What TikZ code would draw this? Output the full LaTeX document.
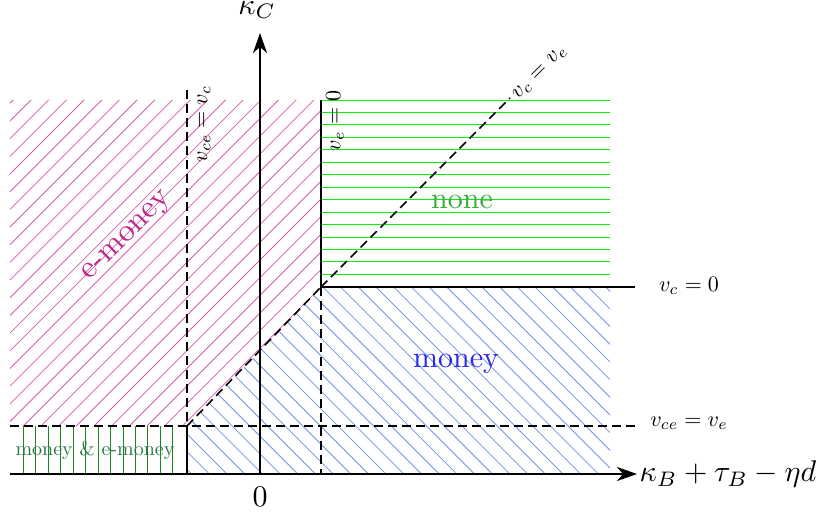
\documentclass[tikz,border=0pt]{standalone}
\usetikzlibrary{arrows.meta}
\definecolor{pinkh}{RGB}{214,90,170}
\definecolor{pinkt}{RGB}{190,40,140}
\definecolor{blueh}{RGB}{115,145,232}
\definecolor{bluet}{RGB}{40,40,235}
\definecolor{greenh}{RGB}{0,245,0}
\definecolor{greent}{RGB}{60,170,60}
\definecolor{dgreenh}{RGB}{30,135,30}
\definecolor{dgreent}{RGB}{40,120,70}
\tikzset{
  axis/.style={line width=1.9pt,-{Stealth[length=20pt,width=14pt,inset=6pt]}},
  bound/.style={line width=1.7pt},
  dbound/.style={line width=1.6pt,dash pattern=on 9pt off 5pt},
  hatch/.style={line width=0.8pt},
  lab/.style={scale=2.2,inner sep=0pt},
  biglab/.style={scale=3,inner sep=0pt},
}
\begin{document}
\begin{tikzpicture}[x=1pt,y=-1pt]
\useasboundingbox (0,0) rectangle (818,518);
% key points
\coordinate (O) at (260,474);
\coordinate (L) at (10,474);
\coordinate (Xend) at (637,474);
\coordinate (Yend) at (260,33);
\coordinate (A) at (187,426);
\coordinate (Atop) at (187,90);
\coordinate (Abot) at (187,474);
\coordinate (Lm) at (10,426);
\coordinate (Rm) at (635,426);
\coordinate (B) at (321,287);
\coordinate (Btop) at (321,100);
\coordinate (Bbot) at (321,474);
\coordinate (Br) at (635,287);
\coordinate (D) at (510,98);
% pink hatch (e-money)
\begin{scope}
  \clip (10,100) -- (321,100) -- (B) -- (A) -- (Lm) -- cycle;
  \foreach \k in {0,...,30} {
    \pgfmathsetmacro{\c}{113.3+17.68*\k}
    \draw[hatch,pinkh] (\c,0) -- (\c-600,600);
  }
\end{scope}
% blue hatch (money)
\begin{scope}
  \clip (Abot) -- (A) -- (B) -- (610,287) -- (610,474) -- cycle;
  \foreach \k in {0,...,36} {
    \pgfmathsetmacro{\c}{-300+17.68*\k}
    \draw[hatch,blueh] (\c,0) -- (\c+600,600);
  }
\end{scope}
% green horizontal (none)
\foreach \k in {0,...,14} {
  \draw[hatch,greenh] (321,100+12.45*\k) -- (610,100+12.45*\k);
}
% dark green vertical (money & e-money)
\foreach \k in {0,...,12} {
  \draw[hatch,dgreenh] (23.3+12.45*\k,426) -- (23.3+12.45*\k,474);
}
% boundaries
\draw[dbound] (Atop) -- (A);
\draw[bound] (A) -- (Abot);
\draw[dbound] (Lm) -- (Rm);
\draw[bound] (Btop) -- (B);
\draw[dbound] (B) -- (Bbot);
\draw[bound] (B) -- (Br);
\draw[dbound] (A) -- (B);
\draw[dbound] (B) -- (D);
% axes
\draw[axis] (L) -- (Xend);
\draw[axis] (O) -- (Yend);
% labels
\node[biglab,anchor=west] (xl) at (639,474) {$\kappa_B+\tau_B-\eta d$};
\node[biglab] (yl) at (257,10) {$\kappa_C$};
\node[biglab] (zero) at (260,497) {$0$};
\node[lab] (vc0) at (689,286) {$v_c=0$};
\node[lab] (vcev) at (689,423) {$v_{ce}=v_e$};
\node[lab,rotate=90] (vcevc) at (204,124) {$v_{ce}=v_c$};
\node[lab,rotate=90] (ve0) at (335,121) {$v_e=0$};
\node[lab,rotate=45] (vcve) at (540,73) {$v_c=v_e$};
\node[scale=3.2,inner sep=0pt,rotate=45,text=pinkt] (em) at (128,237) {e-money};
\node[biglab,text=greent] (none) at (462,202) {none};
\node[biglab,text=bluet] (money) at (456,364) {money};
\node[scale=2.0,inner sep=0pt,text=dgreent] (both) at (95,450) {money \& e-money};
\end{tikzpicture}
\end{document}
